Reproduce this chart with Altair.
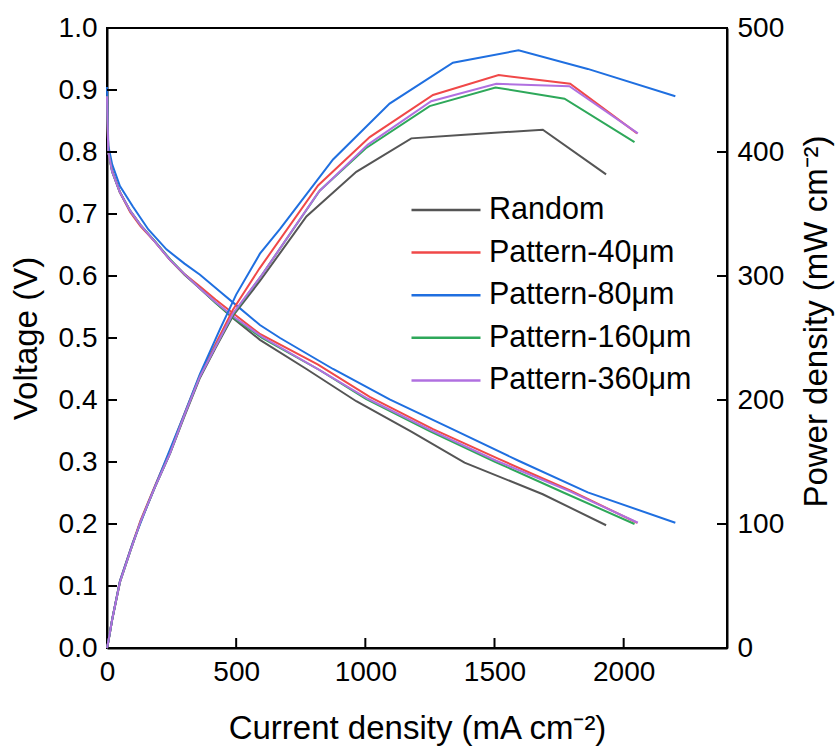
import altair as alt
import pandas as pd

FONT = "Liberation Sans"

series = ["Random", "Pattern-40μm", "Pattern-80μm", "Pattern-160μm", "Pattern-360μm"]
colors = ["#555555", "#f04848", "#1f6fe0", "#2ea85a", "#b070e0"]

random_i = [0, 5, 20, 50, 90, 130, 186, 244, 300, 360, 420, 488, 592, 772, 965, 1178, 1384, 1687, 1932]
random_v = [0.89, 0.80, 0.768, 0.735, 0.705, 0.682, 0.655, 0.626, 0.602, 0.58, 0.557, 0.532, 0.497, 0.45, 0.398, 0.349, 0.299, 0.248, 0.198]
random_p = [0, 5, 23, 53, 78, 102, 130, 157, 187, 218, 242, 268, 296, 348, 384, 411, 414, 418, 382]

red_i = [0, 5, 20, 50, 90, 130, 186, 244, 300, 360, 420, 488, 590, 817, 1017, 1262, 1516, 1793, 2052]
red_v = [0.89, 0.80, 0.77, 0.735, 0.703, 0.68, 0.655, 0.626, 0.603, 0.583, 0.562, 0.540, 0.507, 0.457, 0.405, 0.353, 0.305, 0.254, 0.202]
red_p = [0, 5, 23, 54, 79, 103, 131, 159, 189, 220, 245, 273, 306, 373, 412, 446, 462, 455, 415]

blue_i = [0, 5, 20, 50, 100, 160, 230, 300, 360, 437, 500, 592, 670, 875, 1094, 1339, 1593, 1861, 2200]
blue_v = [0.905, 0.81, 0.78, 0.745, 0.712, 0.675, 0.643, 0.62, 0.602, 0.575, 0.553, 0.521, 0.5, 0.45, 0.401, 0.3525, 0.302, 0.251, 0.202]
blue_p = [0, 5, 23, 54, 85, 117, 153, 189, 221, 257, 285, 318, 338, 394, 439, 472, 482, 467, 445]

green_i = [0, 5, 20, 50, 90, 130, 186, 244, 300, 360, 420, 488, 600, 824, 1002, 1249, 1504, 1771, 2042]
green_v = [0.89, 0.80, 0.768, 0.735, 0.705, 0.682, 0.656, 0.627, 0.603, 0.58, 0.557, 0.533, 0.5, 0.448, 0.402, 0.35, 0.30, 0.25, 0.20]
green_p = [0, 5, 23, 53, 78, 102, 130, 157, 188, 219, 243, 269, 301, 369, 403, 437, 452, 443, 408]

purple_i = [0, 5, 20, 50, 90, 130, 186, 244, 300, 360, 420, 488, 600, 820, 1010, 1255, 1507, 1790, 2055]
purple_v = [0.89, 0.80, 0.768, 0.735, 0.705, 0.682, 0.655, 0.626, 0.603, 0.58, 0.558, 0.535, 0.502, 0.449, 0.402, 0.351, 0.302, 0.253, 0.202]
purple_p = [0, 5, 23, 53, 78, 102, 130, 157, 188, 219, 243, 270, 301, 368, 406, 441, 455, 453, 415]

x_ticks = [0, 500, 1000, 1500, 2000]
v_ticks = [0.0, 0.1, 0.2, 0.3, 0.4, 0.5, 0.6, 0.7, 0.8, 0.9, 1.0]
p_ticks = [0, 100, 200, 300, 400, 500]

rows = []
for name, ii, vv, pp in [
    (series[0], random_i, random_v, random_p),
    (series[1], red_i, red_v, red_p),
    (series[2], blue_i, blue_v, blue_p),
    (series[3], green_i, green_v, green_p),
    (series[4], purple_i, purple_v, purple_p),
]:
    for k, (a, b, c) in enumerate(zip(ii, vv, pp)):
        rows.append({"series": name, "order": k, "current": a, "voltage": b, "power": c})
df = pd.DataFrame(rows)

W, H = 620, 620
xscale = alt.Scale(domain=[0, 2400], nice=False, zero=False)
vscale = alt.Scale(domain=[0, 1], nice=False, zero=False)
pscale = alt.Scale(domain=[0, 500], nice=False, zero=False)

legend = alt.Legend(
    title=None, orient="none", legendX=303, legendY=167,
    symbolType="stroke", symbolSize=4761, symbolStrokeWidth=2.5,
    labelFontSize=30.5, labelFont=FONT, labelColor="black",
    clipHeight=30, rowPadding=11.6, labelOffset=7, padding=0, labelLimit=400,
)
color = alt.Color("series:N", scale=alt.Scale(domain=series, range=colors), legend=legend)

xaxis = alt.Axis(
    title="Current density (mA cm⁻²)", values=x_ticks, format="d",
    ticks=False, tickSize=0, labelPadding=10, titleY=90, titleBaseline="alphabetic",
)
vaxis = alt.Axis(
    title="Voltage (V)", values=v_ticks, format=".1f", orient="left",
    ticks=False, tickSize=0, labelPadding=10,
    titleX=-64, titleY=H / 2, titleAngle=270, titleBaseline="bottom", titleAlign="center",
)
paxis = alt.Axis(
    title="Power density (mW cm⁻²)", values=p_ticks, format="d", orient="right",
    ticks=False, tickSize=0, labelPadding=10,
    titleX=73, titleY=293, titleAngle=270, titleBaseline="top", titleAlign="center",
)

v_lines = alt.Chart(df).mark_line(strokeWidth=2).encode(
    x=alt.X("current:Q", scale=xscale, axis=xaxis),
    y=alt.Y("voltage:Q", scale=vscale, axis=vaxis),
    color=color,
    order="order:Q",
)

v_tick_df = pd.DataFrame({"voltage": v_ticks[1:-1]})
v_tick_marks = alt.Chart(v_tick_df).mark_rule(color="black", strokeWidth=2).encode(
    y=alt.Y("voltage:Q", scale=vscale, axis=vaxis),
    x=alt.value(0), x2=alt.value(10),
)

x_tick_df = pd.DataFrame({"current": x_ticks[1:]})
x_tick_marks = alt.Chart(x_tick_df).mark_rule(color="black", strokeWidth=2).encode(
    x=alt.X("current:Q", scale=xscale, axis=xaxis),
    y=alt.value(H), y2=alt.value(H - 10),
)

p_lines = alt.Chart(df).mark_line(strokeWidth=2).encode(
    x=alt.X("current:Q", scale=xscale, axis=xaxis),
    y=alt.Y("power:Q", scale=pscale, axis=paxis),
    color=color,
    order="order:Q",
)

p_tick_df = pd.DataFrame({"power": p_ticks[1:-1]})
p_tick_marks = alt.Chart(p_tick_df).mark_rule(color="black", strokeWidth=2).encode(
    y=alt.Y("power:Q", scale=pscale, axis=paxis),
    x=alt.value(W - 10), x2=alt.value(W),
)

left = alt.layer(v_lines, v_tick_marks, x_tick_marks)
right = alt.layer(p_lines, p_tick_marks)

chart = alt.layer(left, right).resolve_scale(y="independent").properties(
    width=W, height=H,
    background="white",
    autosize=alt.AutoSizeParams(type="none"),
    padding={"left": 107, "top": 28, "right": 111, "bottom": 98},
).configure_view(
    stroke="black", strokeWidth=2,
).configure_axis(
    grid=False, domainColor="black", domainWidth=2,
    labelFont=FONT, labelFontSize=28, labelColor="black",
    titleFont=FONT, titleFontSize=33, titleColor="black", titleFontWeight="normal",
    labelFlush=False, labelOverlap=False,
)

chart.save("out.html", embed_options={"renderer": "svg", "actions": False})
